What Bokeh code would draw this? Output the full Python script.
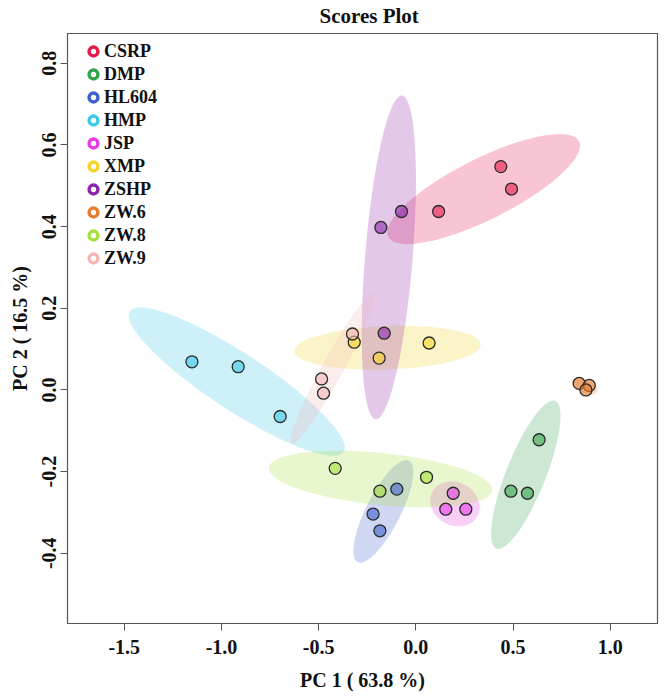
import numpy as np
from bokeh.plotting import figure
from bokeh.models import (Range1d, FixedTicker, PrintfTickFormatter, Legend,
                          LegendItem, ColumnDataSource)
from bokeh.embed import file_html
from bokeh.resources import INLINE

# ---------------- data ----------------
groups = ["CSRP", "DMP", "HL604", "HMP", "JSP", "XMP", "ZSHP", "ZW.6", "ZW.8", "ZW.9"]
colors = ["#E6194B", "#33A34B", "#3F5FCF", "#3CC8E6", "#E63CE6",
          "#F5D327", "#8E24AA", "#E67E30", "#A6E03C", "#F4B6B6"]

sample_group = ["CSRP", "CSRP", "CSRP",
                "DMP", "DMP", "DMP",
                "HL604", "HL604", "HL604",
                "HMP", "HMP", "HMP",
                "JSP", "JSP", "JSP",
                "XMP", "XMP", "XMP",
                "ZSHP", "ZSHP", "ZSHP",
                "ZW.6", "ZW.6", "ZW.6",
                "ZW.8", "ZW.8", "ZW.8",
                "ZW.9", "ZW.9", "ZW.9"]
pc1 = [0.437, 0.492, 0.117,
       0.634, 0.489, 0.574,
       -0.098, -0.220, -0.185,
       -1.152, -0.914, -0.698,
       0.192, 0.154, 0.257,
       -0.317, -0.189, 0.068,
       -0.074, -0.180, -0.163,
       0.840, 0.892, 0.875,
       -0.415, -0.185, 0.055,
       -0.326, -0.485, -0.475]
pc2 = [0.547, 0.492, 0.437,
       -0.122, -0.248, -0.253,
       -0.243, -0.304, -0.345,
       0.069, 0.057, -0.065,
       -0.253, -0.292, -0.292,
       0.117, 0.078, 0.115,
       0.437, 0.398, 0.139,
       0.016, 0.011, 0.000,
       -0.192, -0.248, -0.214,
       0.137, 0.027, -0.008]

x_ticks = [-1.5, -1.0, -0.5, 0.0, 0.5, 1.0]
y_ticks = [-0.4, -0.2, 0.0, 0.2, 0.4, 0.6, 0.8]
title_text = "Scores Plot"
x_label = "PC 1 ( 63.8 %)"
y_label = "PC 2 ( 16.5 %)"
conf_level = 0.95

FONT = "Liberation Serif"

# ---------------- figure ----------------
p = figure(width=667, height=696, output_backend="svg", toolbar_location=None,
           x_range=Range1d(-1.792, 1.243), y_range=Range1d(-0.572, 0.873),
           min_border_left=67, min_border_right=10, min_border_top=33,
           min_border_bottom=73, title=title_text)

p.title.text_font = FONT
p.title.text_font_style = "bold"
p.title.text_font_size = "21px"
p.title.align = "left"
p.title.offset = 252
p.title.vertical_align = "top"
p.title.standoff = 7
p.title.text_color = "#111111"

p.outline_line_color = "#555555"
p.outline_line_width = 1.2
p.xgrid.visible = False
p.ygrid.visible = False

for ax in (p.xaxis[0], p.yaxis[0]):
    ax.axis_line_color = None
    ax.major_tick_line_color = "#555555"
    ax.major_tick_out = 7
    ax.major_tick_in = 0
    ax.minor_tick_out = 0
    ax.minor_tick_in = 0
    ax.major_label_text_font = FONT
    ax.major_label_text_font_style = "bold"
    ax.major_label_text_font_size = "20px"
    ax.major_label_text_color = "#111111"
    ax.axis_label_text_font = FONT
    ax.axis_label_text_font_style = "bold"
    ax.axis_label_text_font_size = "20px"
    ax.axis_label_text_color = "#111111"
    ax.formatter = PrintfTickFormatter(format="%.1f")

p.xaxis[0].ticker = FixedTicker(ticks=x_ticks)
p.yaxis[0].ticker = FixedTicker(ticks=y_ticks)
p.xaxis[0].axis_label = x_label
p.yaxis[0].axis_label = y_label
p.xaxis[0].major_label_standoff = 9
p.xaxis[0].axis_label_standoff = 12
p.yaxis[0].major_label_standoff = 4
p.yaxis[0].axis_label_standoff = 9
p.yaxis[0].major_label_orientation = "vertical"

cmap = dict(zip(groups, colors))

# ---------------- legend renderers (zero-size markers, drawn first) ----------------
items = []
for g, c in zip(groups, colors):
    idx = [i for i, s in enumerate(sample_group) if s == g]
    r = p.scatter(x=[pc1[i] for i in idx], y=[pc2[i] for i in idx], size=0,
                  fill_alpha=0, line_color=c, line_width=3.5)
    items.append(LegendItem(label=g, renderers=[r]))

# ---------------- confidence ellipses (computed from the data) ----------------
t = np.sqrt(-2.0 * np.log(1.0 - conf_level))
theta = np.linspace(0, 2 * np.pi, 181)
circ = np.vstack([np.cos(theta), np.sin(theta)])
exs, eys = [], []
for g in groups:
    idx = [i for i, s in enumerate(sample_group) if s == g]
    pts = np.array([[pc1[i], pc2[i]] for i in idx])
    mu = pts.mean(axis=0)
    cov = np.cov(pts.T)
    vals, vecs = np.linalg.eigh(cov)
    vals = np.clip(vals, 0, None)
    E = vecs @ (np.sqrt(vals)[:, None] * circ) * t
    exs.append((mu[0] + E[0]).tolist())
    eys.append((mu[1] + E[1]).tolist())

esrc = ColumnDataSource(dict(xs=exs, ys=eys, color=colors))
p.patches("xs", "ys", source=esrc, fill_color="color", fill_alpha=0.25, line_color=None)

# ---------------- points ----------------
psrc = ColumnDataSource(dict(x=pc1, y=pc2, c=[cmap[g] for g in sample_group]))
p.scatter("x", "y", source=psrc, size=12, fill_color="c", fill_alpha=0.6,
          line_color="#2b2b2b", line_width=1.3)

# ---------------- legend ----------------
legend = Legend(items=items, location=(15, 354), orientation="vertical",
                glyph_width=22, glyph_height=22, label_height=22, spacing=1,
                padding=0, margin=0, label_standoff=-1,
                label_text_font=FONT, label_text_font_style="bold",
                label_text_font_size="18px", label_text_color="#111111",
                border_line_alpha=0, background_fill_alpha=0)
p.add_layout(legend)

open("out.html", "w").write(file_html(p, INLINE))
